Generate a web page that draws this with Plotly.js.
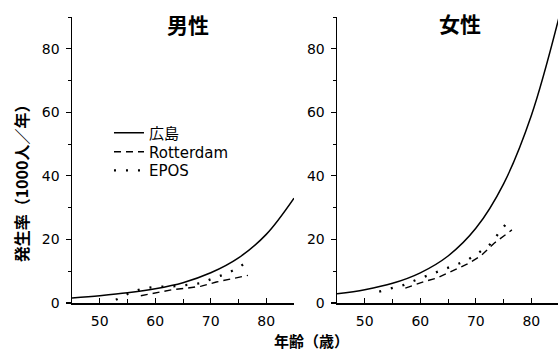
<!DOCTYPE html>
<html>
<head>
<meta charset="utf-8">
<script src="https://cdn.plot.ly/plotly-3.0.1.min.js"></script>
<style>html,body{margin:0;padding:0;background:#fff;}#chart{width:558px;height:351px;}</style>
</head>
<body>
<div id="chart"></div>
<script>
// Hiroshima (solid) curves
const hiroAges = [45, 50, 55, 60, 65, 70, 75, 80, 85];
const hiroMale = [1.6, 2.3, 3.2, 4.5, 6.4, 9.5, 14.2, 21.6, 33.0];
const hiroFemale = [2.9, 4.2, 6.2, 9.5, 14.8, 23.5, 37.5, 59.0, 90.0];

// Rotterdam (dashed)
const rotMaleAges = [57.4, 60.4, 63.1, 65.8, 68.3, 71.0, 73.6, 76.7];
const rotMale = [2.3, 3.2, 4.2, 4.7, 5.3, 6.6, 7.6, 8.7];
const rotFemaleAges = [57.3, 60.8, 62.9, 65.6, 68.4, 70.9, 73.3, 76.5];
const rotFemale = [4.7, 6.8, 7.8, 9.9, 12.2, 14.8, 18.8, 23.0];

// EPOS (dotted)
const eposMaleAges = [52.9, 55.1, 57.4, 59.5, 61.7, 63.9, 66.2, 68.4, 70.6, 72.8, 75.0, 77.1];
const eposMale = [1.0, 2.9, 4.4, 5.0, 5.2, 5.3, 5.8, 6.3, 7.9, 9.2, 11.1, 13.7];
const eposFemaleAges = [52.6, 54.9, 57.1, 59.3, 61.5, 63.7, 65.9, 68.3, 70.5, 72.6, 74.3, 76.1];
const eposFemale = [3.6, 4.7, 5.7, 7.3, 8.8, 10.4, 11.7, 13.3, 15.8, 18.5, 22.4, 26.3];

const seriesNames = ['広島', 'Rotterdam', 'EPOS'];
const panelTitles = ['男性', '女性'];
const yTitle = '発生率（1000人／年）';
const xTitle = '年齢（歳）';
const xTickVals = [50, 60, 70, 80];
const yTickVals = [0, 20, 40, 60, 80];

const numFont = '"DejaVu Sans", "Liberation Sans", sans-serif';
const jpFont = '"Noto Sans CJK JP", "DejaVu Sans", sans-serif';
const legFont = '"DejaVu Sans", "Noto Sans CJK JP", sans-serif';

const solid = {color: '#000', width: 1.5, shape: 'spline'};
const dashed = {color: '#000', width: 1.4, dash: '7px,5px'};
const dotted = {color: '#000', width: 2.3, dash: '2px,10px'};

const traces = [
  {x: hiroAges, y: hiroMale, mode: 'lines', name: seriesNames[0], line: solid, xaxis: 'x', yaxis: 'y', legend: 'legend'},
  {x: rotMaleAges, y: rotMale, mode: 'lines', name: seriesNames[1], line: dashed, xaxis: 'x', yaxis: 'y', legend: 'legend2'},
  {x: eposMaleAges, y: eposMale, mode: 'lines', name: seriesNames[2], line: dotted, xaxis: 'x', yaxis: 'y', legend: 'legend3'},
  {x: hiroAges, y: hiroFemale, mode: 'lines', name: seriesNames[0], line: solid, xaxis: 'x2', yaxis: 'y2', showlegend: false},
  {x: rotFemaleAges, y: rotFemale, mode: 'lines', name: seriesNames[1], line: dashed, xaxis: 'x2', yaxis: 'y2', showlegend: false},
  {x: eposFemaleAges, y: eposFemale, mode: 'lines', name: seriesNames[2], line: dotted, xaxis: 'x2', yaxis: 'y2', showlegend: false}
];

function xAxis(domain, range) {
  return {
    domain: domain, range: range, showline: true, linecolor: '#000', linewidth: 1.5,
    showgrid: false, zeroline: false, tickvals: xTickVals, ticks: 'inside', ticklen: 5,
    tickcolor: '#000', tickwidth: 1.2, ticklabelstandoff: 5,
    minor: {dtick: 5, tick0: 45, ticks: 'inside', ticklen: 4, tickcolor: '#000', tickwidth: 1},
    tickfont: {family: numFont, size: 14, color: '#000'}, fixedrange: true
  };
}
function yAxis(anchor) {
  return {
    anchor: anchor, range: [0, 90], showline: true, linecolor: '#000', linewidth: 1.5,
    showgrid: false, zeroline: false, tickvals: yTickVals, ticks: 'outside', ticklen: 5,
    tickcolor: '#000', tickwidth: 1.2, ticklabelstandoff: 3,
    minor: {dtick: 10, tick0: 0, ticks: 'outside', ticklen: 3, tickcolor: '#000', tickwidth: 1},
    tickfont: {family: numFont, size: 14, color: '#000'}, fixedrange: true
  };
}
function leg(y) {
  return {
    x: 0.0761, y: y, xanchor: 'left', yanchor: 'middle',
    bgcolor: 'rgba(0,0,0,0)', borderwidth: 0,
    font: {family: legFont, size: 15, color: '#000'}
  };
}

const layout = {
  width: 558, height: 351,
  margin: {l: 72, r: 0, t: 17, b: 48},
  paper_bgcolor: '#fff', plot_bgcolor: '#fff',
  showlegend: true,
  legend: leg(0.594),
  legend2: leg(0.528),
  legend3: leg(0.463),
  xaxis: xAxis([0, 0.4568], [45, 85]),
  yaxis: yAxis('x'),
  xaxis2: xAxis([0.5453, 1], [45, 84.8]),
  yaxis2: yAxis('x2'),
  annotations: [
    {text: panelTitles[0], xref: 'paper', yref: 'paper', x: 0.2377, y: 0.9755, showarrow: false,
     font: {family: jpFont, size: 21, color: '#000', weight: 'bold'}, xanchor: 'center', yanchor: 'middle'},
    {text: panelTitles[1], xref: 'paper', yref: 'paper', x: 0.798, y: 0.978, showarrow: false,
     font: {family: jpFont, size: 21, color: '#000', weight: 'bold'}, xanchor: 'center', yanchor: 'middle'},
    {text: yTitle, xref: 'paper', yref: 'paper', x: -0.106, y: 0.434, showarrow: false,
     textangle: -90, font: {family: jpFont, size: 16, color: '#000', weight: 'bold'}, xanchor: 'center', yanchor: 'middle'},
    {text: xTitle, xref: 'paper', yref: 'paper', x: 0.492, y: -0.13, showarrow: false,
     font: {family: jpFont, size: 15, color: '#000', weight: 'bold'}, xanchor: 'center', yanchor: 'middle'}
  ]
};

Plotly.newPlot('chart', traces, layout, {displayModeBar: false, staticPlot: true});
</script>
</body>
</html>
